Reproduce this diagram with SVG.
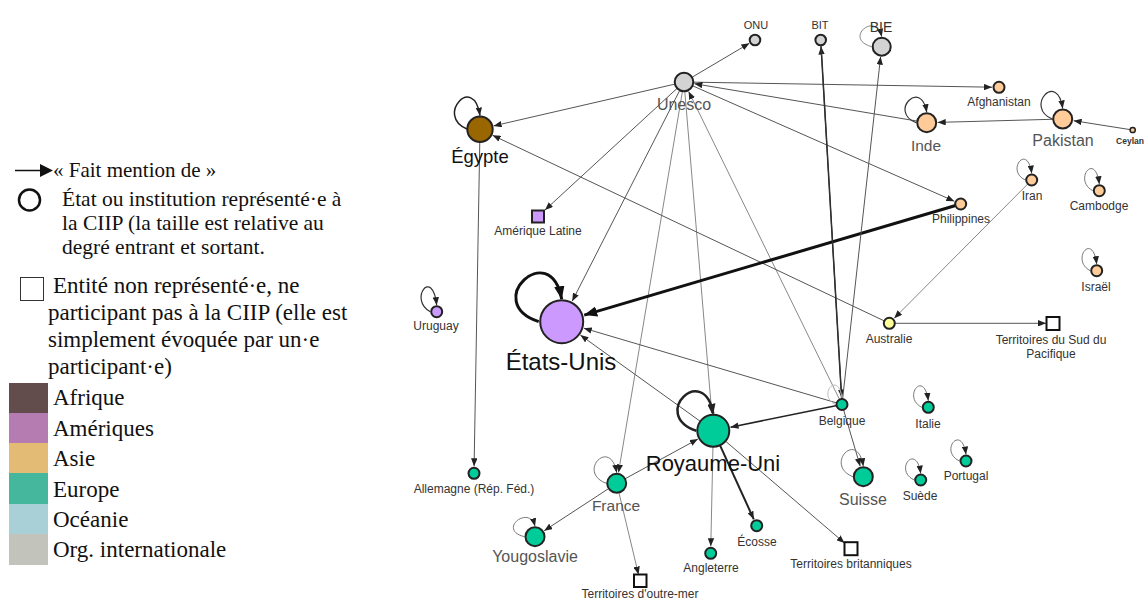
<svg xmlns="http://www.w3.org/2000/svg" width="1144" height="601" viewBox="0 0 1144 601">
<defs>
<marker id="a" viewBox="0 0 10 8" refX="10" refY="4" markerWidth="8" markerHeight="6.4" orient="auto" markerUnits="userSpaceOnUse"><path d="M0,0L10,4L0,8z" fill="#222"/></marker>
<marker id="am" viewBox="0 0 10 8" refX="10" refY="4" markerWidth="10" markerHeight="8" orient="auto" markerUnits="userSpaceOnUse"><path d="M0,0L10,4L0,8z" fill="#222"/></marker>
<marker id="al" viewBox="0 0 10 8" refX="10" refY="4" markerWidth="13" markerHeight="10.4" orient="auto" markerUnits="userSpaceOnUse"><path d="M0,0L10,4L0,8z" fill="#111"/></marker>
<style>
.e{fill:none;stroke:#555;stroke-width:1}
.eg{fill:none;stroke:#888;stroke-width:1}
.ed{fill:none;stroke:#222;stroke-width:1.5}
.lp{fill:none;stroke:#777;stroke-width:1}
.nd{stroke:#222;stroke-width:2}
.sq{fill:#fff;stroke:#111;stroke-width:2}
.org{fill:#d3d3d3}.afr{fill:#996600}.asi{fill:#ffcc99}.ame{fill:#cc99ff}.eur{fill:#00cc99}.oce{fill:#ffff99}
.lb{font-family:"Liberation Sans",Arial,sans-serif;text-anchor:middle;fill:#333;font-size:12px}
.lm{fill:#555;font-size:16px}
.lk{fill:#111}
.lg{font-family:"Liberation Serif","Times New Roman",serif;fill:#111}
</style>
</defs>
<rect width="1144" height="601" fill="#fff"/>

<g id="legend">
<line x1="15" y1="170.5" x2="41" y2="170.5" stroke="#111" stroke-width="1.5"/>
<path d="M40,164L53,170.5L40,177z" fill="#111"/>
<text class="lg" x="53" y="177" font-size="21">« Fait mention de »</text>
<circle cx="29.5" cy="200" r="10.5" fill="none" stroke="#111" stroke-width="2.5"/>
<text class="lg" x="62" y="206" font-size="21.5">État ou institution représenté·e à</text>
<text class="lg" x="62" y="230" font-size="21.5">la CIIP (la taille est relative au</text>
<text class="lg" x="62" y="254" font-size="21.5">degré entrant et sortant.</text>
<rect x="20.5" y="277.5" width="23" height="23" fill="none" stroke="#333" stroke-width="1"/>
<text class="lg" x="53" y="293" font-size="23">Entité non représenté·e, ne</text>
<text class="lg" x="48" y="320" font-size="23">participant pas à la CIIP (elle est</text>
<text class="lg" x="48" y="347" font-size="23">simplement évoquée par un·e</text>
<text class="lg" x="48" y="374" font-size="23">participant·e)</text>
<rect x="9" y="383" width="39" height="30" fill="#634c4c"/>
<rect x="9" y="413" width="39" height="30" fill="#b47cb0"/>
<rect x="9" y="443" width="39" height="30" fill="#e3bb75"/>
<rect x="9" y="473" width="39" height="31" fill="#45b79c"/>
<rect x="9" y="504" width="39" height="30" fill="#a8d0d6"/>
<rect x="9" y="534" width="39" height="31" fill="#c2c4bc"/>
<text class="lg" x="53" y="405" font-size="23">Afrique</text>
<text class="lg" x="53" y="436" font-size="23">Amériques</text>
<text class="lg" x="53" y="466" font-size="23">Asie</text>
<text class="lg" x="53" y="497" font-size="23">Europe</text>
<text class="lg" x="53" y="527" font-size="23">Océanie</text>
<text class="lg" x="53" y="557" font-size="23">Org. internationale</text>
</g>

<g id="connectors">
<path class="e" d="M684,82L749.4,43.3" marker-end="url(#a)"/>
<path class="e" d="M684,82L493.6,125.9" marker-end="url(#a)"/>
<path class="e" d="M684,82L545,210" marker-end="url(#a)"/>
<path class="e" d="M684,82L572.2,301.2" marker-end="url(#a)"/>
<path class="eg" d="M684,82L618.5,472.5" marker-end="url(#a)"/>
<path class="eg" d="M684,82L711.8,413.3" marker-end="url(#a)"/>
<path class="eg" d="M842,404.5L688.6,91.4" marker-end="url(#a)"/>
<path class="e" d="M684,82L954.3,201.2" marker-end="url(#a)"/>
<path class="e" d="M684,82L992,87.2" marker-end="url(#a)"/>
<path class="e" d="M926.7,122.7L694.4,83.7" marker-end="url(#a)"/>
<path class="e" d="M1062.7,119L937.7,122.4" marker-end="url(#a)"/>
<path class="e" d="M1132.7,130L1073.6,120.7" marker-end="url(#a)"/>
<path class="e" d="M480,129L474.1,466.3" marker-end="url(#a)"/>
<path class="e" d="M889.3,323.3L492.6,135.3" marker-end="url(#a)"/>
<path class="eg" d="M1031.7,180L894.2,318.3" marker-end="url(#a)"/>
<path class="e" d="M889.3,323.3L1046,323.3" marker-end="url(#a)"/>
<path fill="none" stroke="#111" stroke-width="3" d="M960.7,204L584.2,315.1" marker-end="url(#al)"/>
<path class="e" d="M842,404.5L583.8,328.2" marker-end="url(#a)"/>
<path class="e" d="M713.3,430.7L580.4,335.1" marker-end="url(#a)"/>
<path class="ed" d="M842,404.5L730.5,427.2" marker-end="url(#a)"/>
<path class="e" d="M616.7,483.3L697.9,439.1" marker-end="url(#a)"/>
<path class="e" d="M616.7,483.3L544.2,530.7" marker-end="url(#a)"/>
<path class="eg" d="M616.7,483.3L638.5,574.5" marker-end="url(#a)"/>
<path class="eg" d="M713.3,430.7L710.8,546.3" marker-end="url(#a)"/>
<path fill="none" stroke="#222" stroke-width="2" d="M713.3,430.7L753.8,519.3" marker-end="url(#a)"/>
<path class="e" d="M713.3,430.7L844.5,543" marker-end="url(#a)"/>
<path class="e" d="M842,404.5L860.2,466.2" marker-end="url(#a)"/>
<path class="ed" d="M842,404.5L821.1,46.5" marker-end="url(#a)"/>
<path fill="none" stroke="#333" stroke-width="1" d="M820.7,40L841.6,397.5" marker-end="url(#a)"/>
<path class="e" d="M842,404.5L880.6,56.7" marker-end="url(#a)"/>
<path class="ed" d="M467,129C435,115.8 473.6,73.1 480,115.6" marker-end="url(#a)"/>
<path fill="none" stroke="#111" stroke-width="3" d="M538.7,321.7C480.7,302.5 550.1,236.8 561.7,299.2" marker-end="url(#al)"/>
<path fill="none" stroke="#222" stroke-width="2.5" d="M696.3,430.7C649.3,414.5 703.9,361.7 713.3,413.7" marker-end="url(#am)"/>
<path class="eg" d="M871.7,46.7C842.7,38.7 875.9,10.7 881.7,36.7" marker-end="url(#a)"/>
<path fill="none" stroke="#333" stroke-width="1.2" d="M916.2,122.7C888.2,112.1 921.1,77.7 926.7,112.2" marker-end="url(#a)"/>
<path fill="none" stroke="#333" stroke-width="1.2" d="M1052.2,119C1024.2,107.2 1057.1,70.1 1062.7,108.5" marker-end="url(#a)"/>
<path class="lp" d="M1025.2,180C1005.2,170.4 1027.7,142.3 1031.7,173.5" marker-end="url(#a)"/>
<path class="lp" d="M1092.8,190.7C1072.8,180.3 1095.3,150.4 1099.3,184.2" marker-end="url(#a)"/>
<path class="lp" d="M1090.2,270.7C1070.2,260.3 1092.7,230.4 1096.7,264.2" marker-end="url(#a)"/>
<path fill="none" stroke="#333" stroke-width="1.2" d="M430.2,311.7C408.2,299.7 432.3,266.2 436.7,305.2" marker-end="url(#a)"/>
<path class="lp" d="M606.2,483.3C576.2,472.1 610.7,436.4 616.7,472.8" marker-end="url(#a)"/>
<path class="lp" d="M524.5,536.7C496.5,529.9 529.4,504.1 535,526.2" marker-end="url(#a)"/>
<path fill="none" stroke="#bbb" stroke-width="1" d="M835.5,404.5C816.5,395.7 838.2,369.4 842,398"/>
<path class="lp" d="M921.8,407.3C901.8,397.3 924.2,368.3 928.3,400.8" marker-end="url(#a)"/>
<path class="lp" d="M852.8,476.7C823.8,465.1 857.5,428.5 863.3,466.2" marker-end="url(#a)"/>
<path class="lp" d="M914.2,480C893.2,470.2 916.5,441.8 920.7,473.5" marker-end="url(#a)"/>
<path class="lp" d="M959.5,461C938.5,451.2 961.8,422.8 966,454.5" marker-end="url(#a)"/>
</g>

<g id="n-onu"><circle class="nd org" cx="755" cy="40" r="5.3"/><text class="lb" x="756" y="29" style="font-size:11px">ONU</text></g>
<g id="n-bit"><circle class="nd org" cx="820.7" cy="40" r="5.3"/><text class="lb" x="820" y="29" style="font-size:11px">BIT</text></g>
<g id="n-bie"><circle class="nd org" cx="881.7" cy="46.7" r="9"/><text class="lb" x="881" y="32" style="font-size:14px">BIE</text></g>
<g id="n-unesco"><circle class="nd org" cx="684" cy="82" r="9.3"/><text class="lb lm" x="684" y="110">Unesco</text></g>
<g id="n-egypte"><circle class="nd afr" cx="480" cy="129.3" r="12.7"/><text class="lb lk" x="480" y="163" style="font-size:18.5px">Égypte</text></g>
<g id="n-afghanistan"><circle class="nd asi" cx="999" cy="87.3" r="5.5"/><text class="lb" x="999" y="106">Afghanistan</text></g>
<g id="n-inde"><circle class="nd asi" cx="926.7" cy="122.7" r="9.5"/><text class="lb lm" x="926" y="151" style="font-size:15.5px">Inde</text></g>
<g id="n-pakistan"><circle class="nd asi" cx="1062.7" cy="119" r="9.5"/><text class="lb lm" x="1063" y="146">Pakistan</text></g>
<g id="n-ceylan"><circle class="asi" cx="1132.7" cy="130" r="2.6" stroke="#222" stroke-width="1.5"/><text class="lb" x="1130" y="144" style="font-size:8.5px;font-weight:bold">Ceylan</text></g>
<g id="n-iran"><circle class="nd asi" cx="1031.7" cy="180" r="5.5"/><text class="lb" x="1032" y="200">Iran</text></g>
<g id="n-cambodge"><circle class="nd asi" cx="1099.3" cy="190.7" r="5.5"/><text class="lb" x="1099" y="210">Cambodge</text></g>
<g id="n-israel"><circle class="nd asi" cx="1096.7" cy="270.7" r="5.5"/><text class="lb" x="1096" y="291">Israël</text></g>
<g id="n-philippines"><circle class="nd asi" cx="960.7" cy="204" r="5.5"/><text class="lb" x="961" y="223">Philippines</text></g>
<g id="n-amerique-latine"><rect class="ame" x="532" y="210.5" width="12" height="12" stroke="#222" stroke-width="2"/><text class="lb" x="538" y="235">Amérique Latine</text></g>
<g id="n-uruguay"><circle class="nd ame" cx="436.7" cy="311.7" r="5.5"/><text class="lb" x="436" y="330">Uruguay</text></g>
<g id="n-etats-unis"><circle class="nd ame" cx="561.7" cy="321.7" r="21.5"/><text class="lb lk" x="561" y="370" style="font-size:24px">États-Unis</text></g>
<g id="n-australie"><circle class="nd oce" cx="889.3" cy="323.3" r="5.5"/><text class="lb" x="889" y="343">Australie</text></g>
<g id="n-tsp"><rect class="sq" x="1046.5" y="317" width="13" height="13"/><text class="lb" x="1051" y="344">Territoires du Sud du</text><text class="lb" x="1051" y="358">Pacifique</text></g>
<g id="n-belgique"><circle class="nd eur" cx="842" cy="404.5" r="5.5"/><text class="lb" x="842" y="425">Belgique</text></g>
<g id="n-italie"><circle class="nd eur" cx="928.3" cy="407.3" r="5.5"/><text class="lb" x="928" y="428">Italie</text></g>
<g id="n-royaume-uni"><circle class="nd eur" cx="713.3" cy="430.7" r="16"/><text class="lb lk" x="713" y="471" style="font-size:22px">Royaume-Uni</text></g>
<g id="n-suisse"><circle class="nd eur" cx="863.3" cy="476.7" r="9.5"/><text class="lb lm" x="863" y="505">Suisse</text></g>
<g id="n-suede"><circle class="nd eur" cx="920.7" cy="480" r="5.5"/><text class="lb" x="920" y="500">Suède</text></g>
<g id="n-portugal"><circle class="nd eur" cx="966" cy="461" r="5.5"/><text class="lb" x="966" y="480">Portugal</text></g>
<g id="n-allemagne"><circle class="nd eur" cx="474" cy="473.3" r="5.5"/><text class="lb" x="474" y="493">Allemagne (Rép. Féd.)</text></g>
<g id="n-france"><circle class="nd eur" cx="616.7" cy="483.3" r="9.5"/><text class="lb lm" x="616" y="511" style="font-size:15.5px">France</text></g>
<g id="n-yougoslavie"><circle class="nd eur" cx="535" cy="536.7" r="9.5"/><text class="lb lm" x="535" y="562">Yougoslavie</text></g>
<g id="n-ecosse"><circle class="nd eur" cx="756.7" cy="525.7" r="5.5"/><text class="lb" x="757" y="546">Écosse</text></g>
<g id="n-angleterre"><circle class="nd eur" cx="710.7" cy="553.3" r="5.5"/><text class="lb" x="711" y="572">Angleterre</text></g>
<g id="n-terr-brit"><rect class="sq" x="844.5" y="542.2" width="13" height="13"/><text class="lb" x="851" y="568">Territoires britanniques</text></g>
<g id="n-terr-om"><rect class="sq" x="634" y="574.5" width="12.5" height="12.5"/><text class="lb" x="640" y="598">Territoires d'outre-mer</text></g>
</svg>
